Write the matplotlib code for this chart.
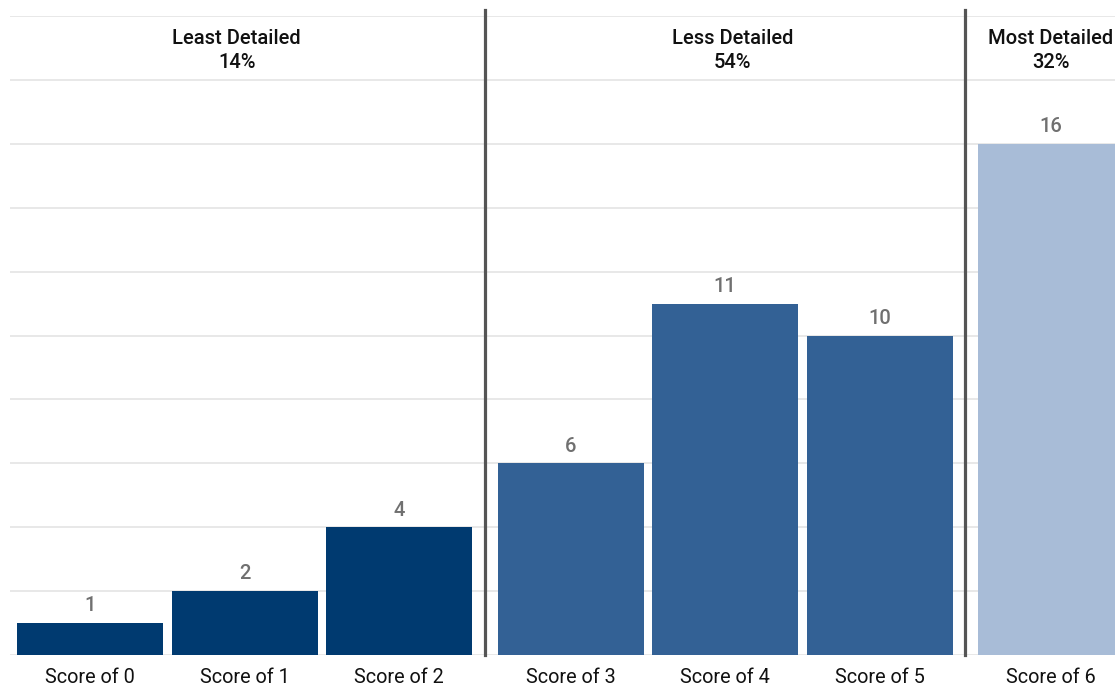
import numpy as np
import matplotlib.pyplot as plt

plt.rcParams['font.family'] = ['Roboto', 'DejaVu Sans']

# data
scores = ['Score of 0', 'Score of 1', 'Score of 2', 'Score of 3',
          'Score of 4', 'Score of 5', 'Score of 6']
counts = [1, 2, 4, 6, 11, 10, 16]
group_of = [0, 0, 0, 1, 1, 1, 2]
group_names = ['Least Detailed', 'Less Detailed', 'Most Detailed']
group_pcts = ['14%', '54%', '32%']
group_colours = ['#003a70', '#336195', '#a8bcd7']

group_gap = 0.11
bar_w = 0.945
header_nudge = [-0.05, 0.05, 0.0]  # headers aren't quite centred in the original

x = np.arange(len(scores)) + np.array(group_of) * group_gap
colours = [group_colours[g] for g in group_of]

fig = plt.figure(figsize=(11.15, 6.85), dpi=100)
ax = fig.add_axes([10 / 1115, 30 / 685, 1105 / 1115, 639 / 685])

ax.bar(x, counts, width=bar_w, color=colours, zorder=2)
for xi, c in zip(x, counts):
    ax.annotate(str(c), (xi, c), xytext=(0, 5.5), textcoords='offset points',
                ha='center', va='bottom', fontsize=14.5, color='#707070',
                fontweight='medium')

ax.set_xlim(x[0] - 0.518, x[0] + 6.634)
ax.set_ylim(0, 20)
ax.set_yticks(np.arange(0, 21, 2))
ax.yaxis.grid(True, color='#e6e6e6', linewidth=1.3, zorder=0)
ax.set_yticklabels([])
ax.tick_params(axis='y', length=0)

ax.set_xticks(x)
ax.set_xticklabels(scores, fontsize=14.3, color='#111111')
ax.tick_params(axis='x', length=0, pad=9.5)

for s in ax.spines.values():
    s.set_visible(False)

# separators between groups
for g in range(1, len(group_names)):
    i = group_of.index(g)
    sep = (x[i - 1] + x[i]) / 2
    ax.plot([sep, sep], [0, 20.2], color='#555555', linewidth=2.3,
            clip_on=False, zorder=3)

# group headers
for g, (name, pct) in enumerate(zip(group_names, group_pcts)):
    members = [xi for xi, gi in zip(x, group_of) if gi == g]
    cx = members[len(members) // 2] + header_nudge[g]
    ax.text(cx, 18.92, name + '\n' + pct, ha='center', va='center',
            fontsize=14.5, fontweight='medium', color='#111111',
            linespacing=1.3)

fig.savefig('out.png', dpi=100)
